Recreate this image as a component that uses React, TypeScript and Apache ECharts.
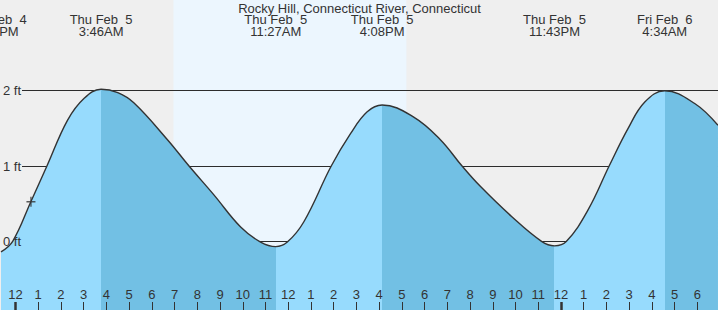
import React, { useEffect, useRef } from "react";
import * as echarts from "echarts";

// ---- data ----
const TITLE = "Rocky Hill, Connecticut River, Connecticut";

// hours since Thu Feb 5 00:00, and water level in feet
const TIDE_HOURS = [
  -0.637, -0.123, 0.681, 1.384, 2.293, 3.023, 3.767, 4.5, 5.206, 6.687, 7.636,
  8.721, 9.907, 10.786, 11.45, 11.96, 12.689, 13.893, 14.741, 15.475, 16.133,
  17.522, 18.695, 19.649, 20.452, 21.828, 23.146, 23.717, 24.244, 25.198,
  26.12, 26.955, 27.689, 28.567, 29.886, 30.909,
];
const TIDE_FEET = [
  -0.14, 0.0, 0.53, 1.0, 1.61, 1.9, 2.02, 1.975, 1.84, 1.35, 1.0,
  0.62, 0.19, -0.01, -0.07, -0.01, 0.26, 1.0, 1.43, 1.72, 1.81,
  1.65, 1.35, 1.0, 0.73, 0.33, 0.0, -0.06, 0.0, 0.42,
  1.0, 1.5, 1.85, 2.0, 1.83, 1.54,
];

const EVENT_HOURS = [-0.983, 3.767, 11.45, 16.133, 23.717, 28.567];
const EVENT_KIND = ["low", "high", "low", "high", "low", "high"];
const EVENT_DAY = ["Wed Feb  4", "Thu Feb  5", "Thu Feb  5", "Thu Feb  5", "Thu Feb  5", "Fri Feb  6"];
const EVENT_CLOCK = ["11:01PM", "3:46AM", "11:27AM", "4:08PM", "11:43PM", "4:34AM"];

const DAYLIGHT = [6.95, 17.2];
const NOW_MARK = [0.681, 0.526];

const HOUR_TICKS = [
  0, 1, 2, 3, 4, 5, 6, 7, 8, 9, 10, 11, 12, 13, 14, 15, 16, 17, 18, 19, 20,
  21, 22, 23, 24, 25, 26, 27, 28, 29, 30,
];
const HOUR_LABELS = [
  "12", "1", "2", "3", "4", "5", "6", "7", "8", "9", "10", "11",
  "12", "1", "2", "3", "4", "5", "6", "7", "8", "9", "10", "11",
  "12", "1", "2", "3", "4", "5", "6",
];
const MIDNIGHT_TICKS = [0, 24];
const FEET_TICKS = [0, 1, 2];
const FEET_LABELS = ["0 ft", "1 ft", "2 ft"];

// ---- styling ----
const X_MIN = -0.637;
const X_MAX = 30.91;
const Y_MIN = -0.912;
const Y_MAX = 3.205;
const BG = "#efefef";
const DAY_BG = "#ecf6fe";
const LIGHT = "#97dbfd";
const DARK = "#72c0e4";
const INK = "#333333";
const FONT = "Liberation Sans";

export default function App() {
  const ref = useRef<HTMLDivElement>(null);

  useEffect(() => {
    if (!ref.current) return;
    const chart = echarts.init(ref.current, null, { renderer: "svg" });
    const points = TIDE_HOURS.map((h, i) => [h, TIDE_FEET[i]]);

    const pieces: any[] = [{ gte: -10, lt: EVENT_HOURS[0], color: DARK }];
    EVENT_HOURS.forEach((t, i) => {
      const next = i + 1 < EVENT_HOURS.length ? EVENT_HOURS[i + 1] : 40;
      pieces.push({ gte: t, lt: next, color: EVENT_KIND[i] === "low" ? LIGHT : DARK });
    });

    const gridLines = () =>
      FEET_TICKS.map((v) => [
        { x: 22, yAxis: v },
        { x: 718, yAxis: v },
      ]);

    chart.setOption({
      animation: false,
      backgroundColor: BG,
      grid: { left: 0, right: 0, top: 0, bottom: 0 },
      visualMap: {
        type: "piecewise",
        show: false,
        dimension: 0,
        seriesIndex: 0,
        pieces,
        outOfRange: { color: DARK },
      },
      xAxis: [
        {
          type: "value",
          min: X_MIN,
          max: X_MAX,
          position: "bottom",
          z: 4,
          axisLine: { show: false, onZero: false },
          splitLine: { show: false },
          axisTick: {
            show: true,
            inside: true,
            length: 8,
            customValues: HOUR_TICKS,
            lineStyle: { color: INK, width: 1 },
          },
          axisLabel: {
            show: true,
            inside: true,
            margin: 9,
            customValues: HOUR_TICKS,
            color: INK,
            fontSize: 13,
            fontFamily: FONT,
            formatter: (v: number) => {
              const i = HOUR_TICKS.indexOf(Math.round(v));
              return i >= 0 ? HOUR_LABELS[i] : "";
            },
          },
        },
        {
          type: "value",
          min: X_MIN,
          max: X_MAX,
          position: "bottom",
          z: 4,
          axisLine: { show: false, onZero: false },
          splitLine: { show: false },
          axisLabel: { show: false },
          axisTick: {
            show: true,
            inside: true,
            length: 8,
            customValues: MIDNIGHT_TICKS,
            lineStyle: { color: INK, width: 2.5 },
          },
        },
      ],
      yAxis: {
        type: "value",
        min: Y_MIN,
        max: Y_MAX,
        position: "left",
        z: 4,
        axisLine: { show: false, onZero: false },
        axisTick: { show: false },
        splitLine: { show: false },
        axisLabel: {
          show: true,
          inside: true,
          margin: 2,
          customValues: FEET_TICKS,
          color: INK,
          fontSize: 13,
          fontFamily: FONT,
          formatter: (v: number) => {
            const i = FEET_TICKS.indexOf(Math.round(v));
            return i >= 0 ? FEET_LABELS[i] : "";
          },
        },
      },
      series: [
        {
          type: "line",
          data: points,
          smooth: 0.4,
          symbol: "none",
          z: 3,
          silent: true,
          lineStyle: { width: 0 },
          areaStyle: { opacity: 1, origin: "start" },
          markArea: {
            silent: true,
            z: 1,
            itemStyle: { color: DAY_BG },
            label: { show: false },
            data: [[{ xAxis: DAYLIGHT[0] }, { xAxis: DAYLIGHT[1] }]],
          },
          markLine: {
            silent: true,
            z: 2,
            symbol: ["none", "none"],
            label: { show: false },
            lineStyle: { color: INK, width: 1, type: "solid" },
            data: gridLines(),
          },
        },
        {
          type: "line",
          data: points,
          smooth: 0.4,
          symbol: "none",
          z: 5,
          silent: true,
          lineStyle: { color: INK, width: 1.4 },
          markLine: {
            silent: true,
            z: 3,
            symbol: ["none", "none"],
            label: { show: false },
            lineStyle: { color: "rgba(0,0,0,0.12)", width: 1, type: "solid" },
            data: gridLines(),
          },
        },
        {
          type: "scatter",
          data: [NOW_MARK],
          z: 6,
          silent: true,
          symbol: "path://M4.25,0h1.5v10h-1.5z M0,4.25h10v1.5h-10z",
          symbolSize: [9, 10],
          itemStyle: { color: INK },
        },
      ],
    });

    const texts: any[] = [
      {
        type: "text",
        x: 359.5,
        y: 8,
        z: 100,
        style: {
          text: TITLE,
          font: `13px "${FONT}"`,
          fill: INK,
          align: "center",
          verticalAlign: "middle",
        },
      },
    ];
    EVENT_HOURS.forEach((t, i) => {
      const px = chart.convertToPixel({ xAxisIndex: 0 }, t) as number;
      texts.push({
        type: "text",
        x: px,
        y: 25.5,
        z: 100,
        style: {
          text: `${EVENT_DAY[i]}\n${EVENT_CLOCK[i]}`,
          font: `13px "${FONT}"`,
          lineHeight: 12,
          fill: INK,
          align: "center",
          verticalAlign: "middle",
        },
      });
    });
    chart.setOption({ graphic: texts });

    return () => chart.dispose();
  }, []);

  return (
    <div
      ref={ref}
      style={{ position: "fixed", left: 0, top: 0, width: 718, height: 310 }}
    />
  );
}
